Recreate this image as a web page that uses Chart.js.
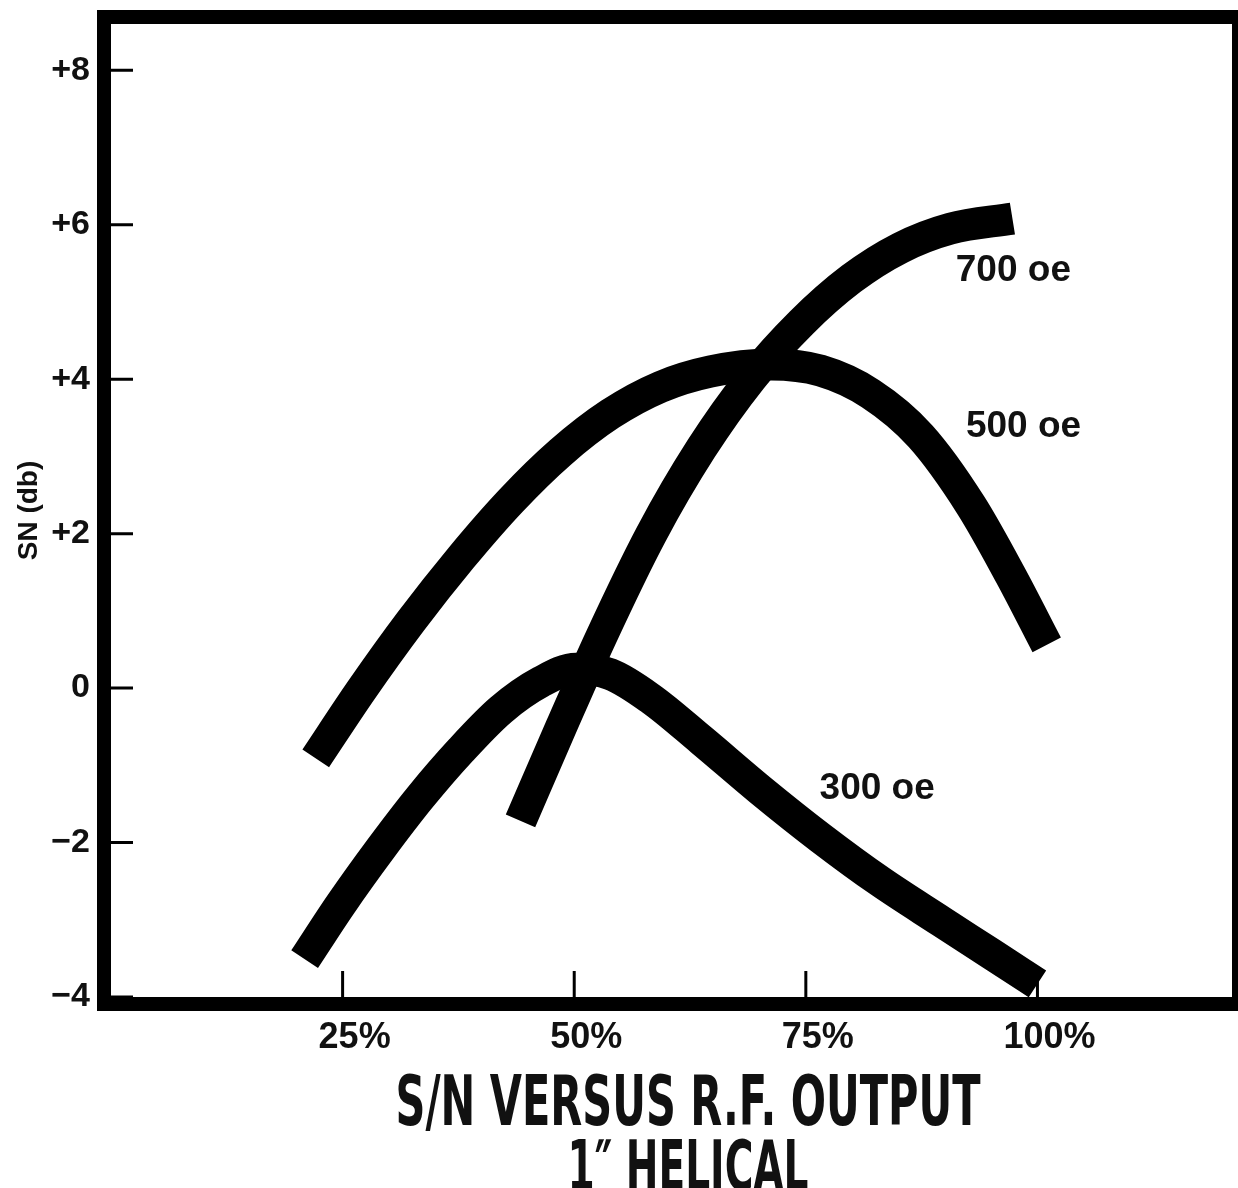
<!DOCTYPE html>
<html>
<head>
<meta charset="utf-8">
<title>S/N versus R.F. output - 1" helical</title>
<script src="https://cdn.jsdelivr.net/npm/chart.js@4.4.1/dist/chart.umd.min.js"></script>
<style>
    html, body { margin: 0; padding: 0; background: #fff; }
    canvas { display: block; }
</style>
</head>
<body>
<canvas id="chart" width="1238" height="1188"></canvas>
<script>
// R.F. output (%) and S/N (db), one pair per curve
const rf700 = [44.2, 48.6, 52.9, 58.3, 63.7, 69.1, 74.5, 79.9, 85.2, 90.6, 97.3];
const sn700 = [-1.72, -0.50, 0.66, 1.99, 3.10, 4.01, 4.73, 5.30, 5.70, 5.95, 6.08];

const rf500 = [22.1, 27.0, 32.4, 37.8, 43.2, 48.5, 53.9, 59.3, 64.7, 71.2, 76.6, 82.0, 87.4, 92.8, 97.1, 101.0];
const sn500 = [-0.91, -0.03, 0.87, 1.69, 2.43, 3.05, 3.55, 3.90, 4.10, 4.19, 4.11, 3.81, 3.26, 2.37, 1.46, 0.56];

const rf300 = [20.9, 24.8, 29.1, 33.4, 37.8, 42.1, 46.4, 50.2, 53.9, 58.3, 63.7, 70.1, 76.6, 83.1, 89.6, 95.0, 100.0];
const sn300 = [-3.51, -2.80, -2.08, -1.41, -0.80, -0.28, 0.08, 0.25, 0.18, -0.14, -0.67, -1.32, -1.94, -2.51, -3.02, -3.44, -3.83];

const curveNames = ['700 oe', '500 oe', '300 oe'];
// where each curve name sits, in axis units
const nameRf = [97.4, 98.5, 82.7];
const nameSn = [5.41, 3.38, -1.31];

const xTickValues = [25, 50, 75, 100];
const titleLines = ['S/N VERSUS R.F. OUTPUT', '1\u2033 HELICAL'];

const INK = '#111';
const SANS = '"Liberation Sans", Arial, sans-serif';
const NARROW = '"Liberation Sans Narrow", "DejaVu Sans Condensed", "Liberation Sans", sans-serif';

/**
 * Zip two arrays into {x, y} points
 */
function toPoints(xs, ys) {
    return xs.map((x, i) => ({ x: x, y: ys[i] }));
}

function curve(label, xs, ys) {
    return {
        label: label,
        data: toPoints(xs, ys),
        borderColor: '#000',
        borderWidth: 32,
        borderCapStyle: 'butt',
        borderJoinStyle: 'round',
        cubicInterpolationMode: 'monotone',
        pointRadius: 0,
        fill: false
    };
}

// white page, heavy frame and short inward tick marks
const framePlugin = {
    id: 'frame',
    beforeDraw(chart) {
        const ctx = chart.ctx;
        ctx.save();
        ctx.fillStyle = '#fff';
        ctx.fillRect(0, 0, chart.width, chart.height);
        ctx.restore();
    },
    afterDatasetsDraw(chart) {
        const { ctx, chartArea: a, scales } = chart;
        ctx.save();
        ctx.strokeStyle = '#000';
        ctx.lineWidth = 14;
        ctx.strokeRect(a.left - 7, a.top - 7, a.right - a.left + 14, a.bottom - a.top + 14);

        ctx.lineWidth = 3;
        ctx.beginPath();
        scales.y.ticks.forEach(t => {
            const py = scales.y.getPixelForValue(t.value);
            ctx.moveTo(a.left, py);
            ctx.lineTo(a.left + 22, py);
        });
        scales.x.ticks.forEach(t => {
            const px = scales.x.getPixelForValue(t.value);
            ctx.moveTo(px, a.bottom);
            ctx.lineTo(px, a.bottom - 26);
        });
        ctx.stroke();
        ctx.restore();
    }
};

// curve names next to the curves
const namesPlugin = {
    id: 'names',
    afterDatasetsDraw(chart) {
        const { ctx, scales } = chart;
        ctx.save();
        ctx.fillStyle = INK;
        ctx.font = 'bold 37px ' + SANS;
        ctx.textAlign = 'center';
        ctx.textBaseline = 'middle';
        curveNames.forEach((name, i) => {
            ctx.fillText(name, scales.x.getPixelForValue(nameRf[i]), scales.y.getPixelForValue(nameSn[i]));
        });
        ctx.restore();
    }
};

// two line caption under the chart, squeezed like the condensed original
const captionPlugin = {
    id: 'caption',
    afterDraw(chart) {
        const ctx = chart.ctx;
        const widths = [585, 241];
        const baselines = [1125, 1190];
        ctx.save();
        ctx.fillStyle = INK;
        ctx.font = 'bold 70px ' + NARROW;
        ctx.textAlign = 'center';
        ctx.textBaseline = 'alphabetic';
        titleLines.forEach((line, i) => {
            const w = ctx.measureText(line).width;
            ctx.save();
            ctx.translate(688, baselines[i]);
            ctx.scale(widths[i] / w, 1);
            ctx.fillText(line, 0, 0);
            ctx.restore();
        });
        ctx.restore();
    }
};

new Chart(document.getElementById('chart'), {
    type: 'line',
    data: {
        datasets: [
            curve(curveNames[0], rf700, sn700),
            curve(curveNames[1], rf500, sn500),
            curve(curveNames[2], rf300, sn300)
        ]
    },
    options: {
        responsive: false,
        animation: false,
        events: [],
        layout: { padding: { top: 24, right: 6, bottom: 0, left: 0 } },
        plugins: {
            legend: { display: false },
            tooltip: { enabled: false },
            title: { display: false }
        },
        scales: {
            x: {
                type: 'linear',
                min: 0,
                max: 121,
                grid: { display: false },
                border: { display: false },
                afterBuildTicks: scale => {
                    scale.ticks = xTickValues.map(v => ({ value: v }));
                },
                afterFit: scale => {
                    scale.height = 191;
                    scale.paddingLeft = 0;
                    scale.paddingRight = 0;
                },
                ticks: {
                    color: INK,
                    font: { family: SANS, size: 36, weight: 'bold' },
                    padding: 11,
                    labelOffset: 12,
                    maxRotation: 0,
                    callback: v => v + '%'
                }
            },
            y: {
                type: 'linear',
                min: -4,
                max: 8.6,
                grid: { display: false, drawTicks: false },
                border: { display: false },
                afterFit: scale => {
                    // fixed gutter; keep the label half-heights from pushing the plot down
                    scale.width = 111;
                    scale.paddingTop = 0;
                    scale.paddingBottom = 0;
                },
                title: {
                    display: true,
                    text: 'SN (db)',
                    color: INK,
                    font: { family: SANS, size: 28, weight: 'bold' },
                    padding: { top: 12, bottom: 0 }
                },
                ticks: {
                    stepSize: 2,
                    includeBounds: false,
                    color: INK,
                    font: { family: SANS, size: 34, weight: 'bold' },
                    padding: 21,
                    callback: v => {
                        if (v % 2 !== 0) return null;
                        if (v > 0) return '+' + v;
                        if (v < 0) return '\u2212' + Math.abs(v);
                        return '0';
                    }
                }
            }
        }
    },
    plugins: [framePlugin, namesPlugin, captionPlugin]
});
</script>
</body>
</html>
